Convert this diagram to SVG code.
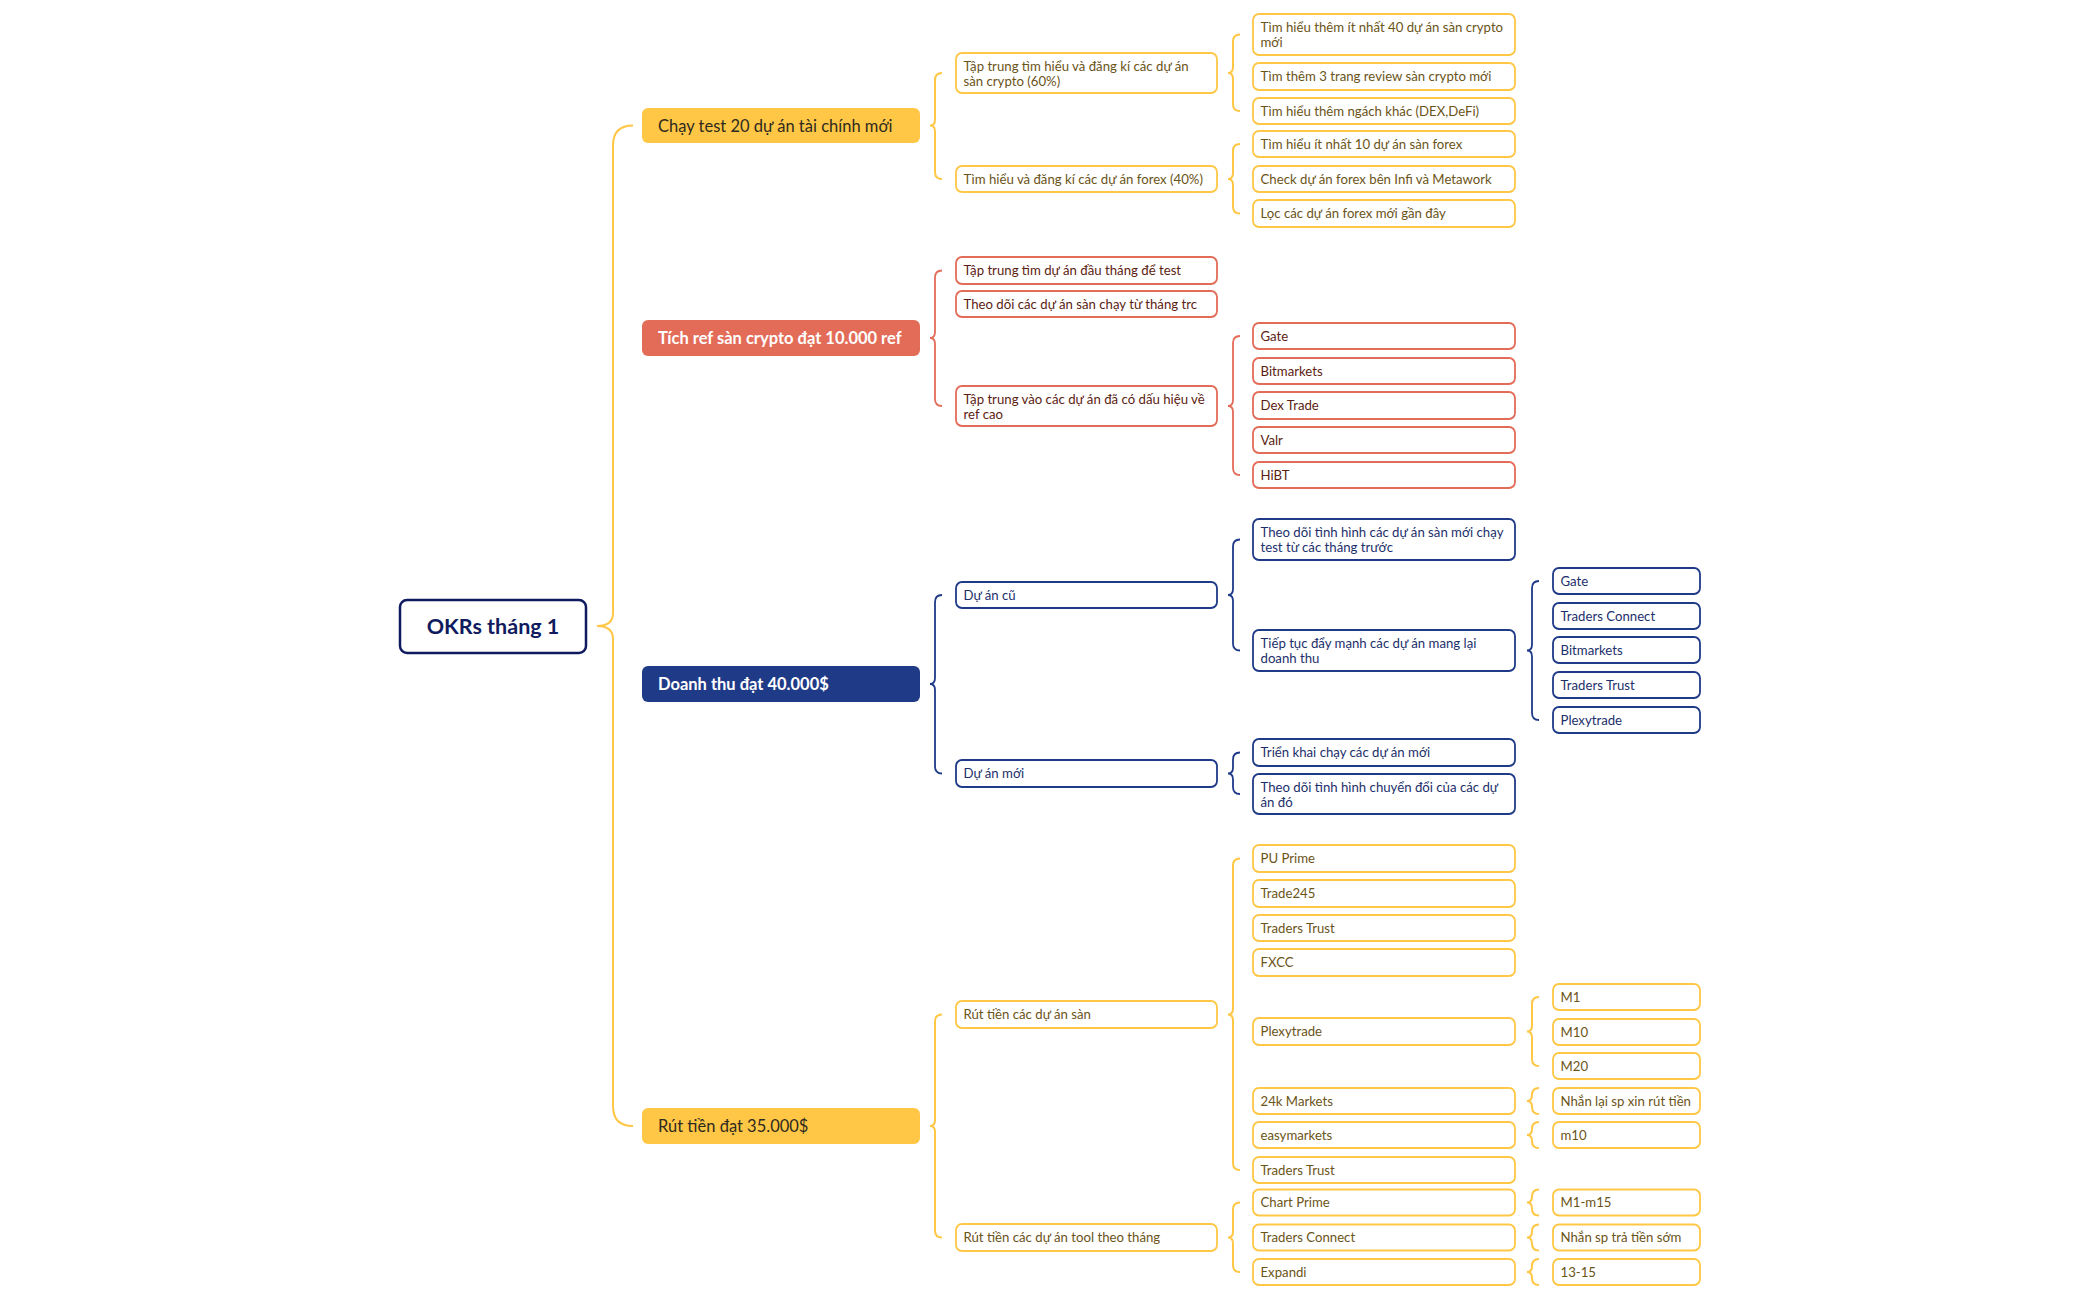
<svg xmlns="http://www.w3.org/2000/svg" width="2098" height="1300" viewBox="0 0 2098 1300">
<style>
text{font-family:"Lato","Open Sans",sans-serif}
.root{fill:#fff;stroke:#0f1b5e;stroke-width:2.5}
.roott{font-size:21.5px;font-weight:700;fill:#0f1b5e}
.l1y{fill:#FFC745}
.l1r{fill:#E36C59}
.l1n{fill:#1F3A87}
.t1d{font-size:16.5px;fill:#2e2a1e}
.t1w{font-size:16.5px;fill:#fff;font-weight:700}
.by{fill:#fff;stroke:#FFC745;stroke-width:1.8}
.br{fill:#fff;stroke:#E36C59;stroke-width:1.8}
.bn{fill:#fff;stroke:#1F3A87;stroke-width:1.8}
.ty{font-size:13.2px;fill:#6b5418}
.tr{font-size:13.2px;fill:#5c1d12}
.tn{font-size:13.2px;fill:#1c2f6b}
.cy{fill:none;stroke:#FFC745;stroke-width:2}
.cr{fill:none;stroke:#E36C59;stroke-width:1.8}
.cn{fill:none;stroke:#1F3A87;stroke-width:1.8}
</style>
<rect width="2098" height="1300" fill="#fff"/>
<g id="connectors">
<path class="cy" d="M633,125.5 Q613,125.5 613,145.5 L613,613 Q613,626 597,626 Q613,626 613,639 L613,1106 Q613,1126 633,1126"/>
<path class="cy" d="M942,73 Q935,73 935,80 L935,119.5 Q935,125.5 930,125.5 Q935,125.5 935,131.5 L935,172 Q935,179 942,179"/>
<path class="cy" d="M1240,34.5 Q1233,34.5 1233,41.5 L1233,67 Q1233,73 1228,73 Q1233,73 1233,79 L1233,104 Q1233,111 1240,111"/>
<path class="cy" d="M1240,144 Q1233,144 1233,151 L1233,173 Q1233,179 1228,179 Q1233,179 1233,185 L1233,206.5 Q1233,213.5 1240,213.5"/>
<path class="cr" d="M942,270.5 Q935,270.5 935,277.5 L935,332 Q935,338 930,338 Q935,338 935,344 L935,399 Q935,406 942,406"/>
<path class="cr" d="M1240,336 Q1233,336 1233,343 L1233,400 Q1233,406 1228,406 Q1233,406 1233,412 L1233,468 Q1233,475 1240,475"/>
<path class="cn" d="M942,595 Q935,595 935,602 L935,678 Q935,684 930,684 Q935,684 935,690 L935,766.5 Q935,773.5 942,773.5"/>
<path class="cn" d="M1240,539.5 Q1233,539.5 1233,546.5 L1233,589 Q1233,595 1228,595 Q1233,595 1233,601 L1233,643.5 Q1233,650.5 1240,650.5"/>
<path class="cn" d="M1539,581 Q1532,581 1532,588 L1532,644.5 Q1532,650.5 1527,650.5 Q1532,650.5 1532,656.5 L1532,713 Q1532,720 1539,720"/>
<path class="cn" d="M1240,752.5 Q1233,752.5 1233,759.5 L1233,767.5 Q1233,773.5 1228,773.5 Q1233,773.5 1233,779.5 L1233,787 Q1233,794 1240,794"/>
<path class="cy" d="M942,1014.5 Q935,1014.5 935,1021.5 L935,1120 Q935,1126 930,1126 Q935,1126 935,1132 L935,1230.5 Q935,1237.5 942,1237.5"/>
<path class="cy" d="M1240,858.5 Q1233,858.5 1233,865.5 L1233,1008.5 Q1233,1014.5 1228,1014.5 Q1233,1014.5 1233,1020.5 L1233,1163 Q1233,1170 1240,1170"/>
<path class="cy" d="M1240,1202.5 Q1233,1202.5 1233,1209.5 L1233,1231.5 Q1233,1237.5 1228,1237.5 Q1233,1237.5 1233,1243.5 L1233,1265 Q1233,1272 1240,1272"/>
<path class="cy" d="M1539,997 Q1532,997 1532,1004 L1532,1025.5 Q1532,1031.5 1527,1031.5 Q1532,1031.5 1532,1037.5 L1532,1059 Q1532,1066 1539,1066"/>
<path class="cy" d="M1539,1088 Q1532,1088 1532,1095 Q1532,1101 1527,1101 Q1532,1101 1532,1107 Q1532,1114 1539,1114"/>
<path class="cy" d="M1539,1122 Q1532,1122 1532,1129 Q1532,1135 1527,1135 Q1532,1135 1532,1141 Q1532,1148 1539,1148"/>
<path class="cy" d="M1539,1189.5 Q1532,1189.5 1532,1196.5 Q1532,1202.5 1527,1202.5 Q1532,1202.5 1532,1208.5 Q1532,1215.5 1539,1215.5"/>
<path class="cy" d="M1539,1224.5 Q1532,1224.5 1532,1231.5 Q1532,1237.5 1527,1237.5 Q1532,1237.5 1532,1243.5 Q1532,1250.5 1539,1250.5"/>
<path class="cy" d="M1539,1259 Q1532,1259 1532,1266 Q1532,1272 1527,1272 Q1532,1272 1532,1278 Q1532,1285 1539,1285"/>
</g>
<g id="root"><rect class="root" x="400" y="600" width="186" height="53" rx="7"/><text class="roott" x="493" y="634" text-anchor="middle">OKRs tháng 1</text></g>
<g id="n1"><rect class="l1y" x="642" y="108" width="278" height="35" rx="6"/><text class="t1d" x="658" y="131.5">Chạy test 20 dự án tài chính mới</text></g>
<g id="n2"><rect class="l1r" x="642" y="320" width="278" height="36" rx="6"/><text class="t1w" x="658" y="344">Tích ref sàn crypto đạt 10.000 ref</text></g>
<g id="n3"><rect class="l1n" x="642" y="666" width="278" height="36" rx="6"/><text class="t1w" x="658" y="690">Doanh thu đạt 40.000$</text></g>
<g id="n4"><rect class="l1y" x="642" y="1108" width="278" height="36" rx="6"/><text class="t1d" x="658" y="1132">Rút tiền đạt 35.000$</text></g>

<g id="n1a"><rect class="by" x="956" y="53" width="261" height="40" rx="6"/><text class="ty" x="963.5" y="71">Tập trung tìm hiểu và đăng kí các dự án</text><text class="ty" x="963.5" y="86">sàn crypto (60%)</text></g>
<g id="n1b"><rect class="by" x="956" y="166" width="261" height="26" rx="6"/><text class="ty" x="963.5" y="183.5">Tìm hiểu và đăng kí các dự án forex (40%)</text></g>
<g id="n1a1"><rect class="by" x="1253" y="14" width="262" height="41" rx="6"/><text class="ty" x="1260.5" y="32">Tìm hiểu thêm ít nhất 40 dự án sàn crypto</text><text class="ty" x="1260.5" y="47">mới</text></g>
<g id="n1a2"><rect class="by" x="1253" y="63" width="262" height="27" rx="6"/><text class="ty" x="1260.5" y="81">Tìm thêm 3 trang review sàn crypto mới</text></g>
<g id="n1a3"><rect class="by" x="1253" y="98" width="262" height="26" rx="6"/><text class="ty" x="1260.5" y="115.5">Tìm hiểu thêm ngách khác (DEX,DeFi)</text></g>
<g id="n1b1"><rect class="by" x="1253" y="131" width="262" height="26" rx="6"/><text class="ty" x="1260.5" y="148.5">Tìm hiểu ít nhất 10 dự án sàn forex</text></g>
<g id="n1b2"><rect class="by" x="1253" y="166" width="262" height="26" rx="6"/><text class="ty" x="1260.5" y="183.5">Check dự án forex bên Infi và Metawork</text></g>
<g id="n1b3"><rect class="by" x="1253" y="200" width="262" height="27" rx="6"/><text class="ty" x="1260.5" y="218">Lọc các dự án forex mới gần đây</text></g>

<g id="n2a"><rect class="br" x="956" y="257" width="261" height="27" rx="6"/><text class="tr" x="963.5" y="275">Tập trung tìm dự án đầu tháng để test</text></g>
<g id="n2b"><rect class="br" x="956" y="291" width="261" height="26" rx="6"/><text class="tr" x="963.5" y="308.5">Theo dõi các dự án sàn chạy từ tháng trc</text></g>
<g id="n2c"><rect class="br" x="956" y="386" width="261" height="40" rx="6"/><text class="tr" x="963.5" y="404">Tập trung vào các dự án đã có dấu hiệu về</text><text class="tr" x="963.5" y="419">ref cao</text></g>
<g id="n2c1"><rect class="br" x="1253" y="323" width="262" height="26" rx="6"/><text class="tr" x="1260.5" y="340.5">Gate</text></g>
<g id="n2c2"><rect class="br" x="1253" y="358" width="262" height="26" rx="6"/><text class="tr" x="1260.5" y="375.5">Bitmarkets</text></g>
<g id="n2c3"><rect class="br" x="1253" y="392" width="262" height="27" rx="6"/><text class="tr" x="1260.5" y="410">Dex Trade</text></g>
<g id="n2c4"><rect class="br" x="1253" y="427" width="262" height="26" rx="6"/><text class="tr" x="1260.5" y="444.5">Valr</text></g>
<g id="n2c5"><rect class="br" x="1253" y="462" width="262" height="26" rx="6"/><text class="tr" x="1260.5" y="479.5">HiBT</text></g>

<g id="n3a"><rect class="bn" x="956" y="582" width="261" height="26" rx="6"/><text class="tn" x="963.5" y="599.5">Dự án cũ</text></g>
<g id="n3b"><rect class="bn" x="956" y="760" width="261" height="27" rx="6"/><text class="tn" x="963.5" y="778">Dự án mới</text></g>
<g id="n3a1"><rect class="bn" x="1253" y="519" width="262" height="41" rx="6"/><text class="tn" x="1260.5" y="537">Theo dõi tình hình các dự án sàn mới chạy</text><text class="tn" x="1260.5" y="552">test từ các tháng trước</text></g>
<g id="n3a2"><rect class="bn" x="1253" y="630" width="262" height="41" rx="6"/><text class="tn" x="1260.5" y="648">Tiếp tục đẩy mạnh các dự án mang lại</text><text class="tn" x="1260.5" y="663">doanh thu</text></g>
<g id="n3b1"><rect class="bn" x="1253" y="739" width="262" height="27" rx="6"/><text class="tn" x="1260.5" y="757">Triển khai chạy các dự án mới</text></g>
<g id="n3b2"><rect class="bn" x="1253" y="774" width="262" height="40" rx="6"/><text class="tn" x="1260.5" y="792">Theo dõi tình hình chuyển đổi của các dự</text><text class="tn" x="1260.5" y="807">án đó</text></g>
<g id="n3a2a"><rect class="bn" x="1553" y="568" width="147" height="26" rx="6"/><text class="tn" x="1560.5" y="585.5">Gate</text></g>
<g id="n3a2b"><rect class="bn" x="1553" y="603" width="147" height="26" rx="6"/><text class="tn" x="1560.5" y="620.5">Traders Connect</text></g>
<g id="n3a2c"><rect class="bn" x="1553" y="637" width="147" height="26" rx="6"/><text class="tn" x="1560.5" y="654.5">Bitmarkets</text></g>
<g id="n3a2d"><rect class="bn" x="1553" y="672" width="147" height="26" rx="6"/><text class="tn" x="1560.5" y="689.5">Traders Trust</text></g>
<g id="n3a2e"><rect class="bn" x="1553" y="707" width="147" height="26" rx="6"/><text class="tn" x="1560.5" y="724.5">Plexytrade</text></g>

<g id="n4a"><rect class="by" x="956" y="1001" width="261" height="27" rx="6"/><text class="ty" x="963.5" y="1019">Rút tiền các dự án sàn</text></g>
<g id="n4b"><rect class="by" x="956" y="1224" width="261" height="27" rx="6"/><text class="ty" x="963.5" y="1242">Rút tiền các dự án tool theo tháng</text></g>
<g id="n4a1"><rect class="by" x="1253" y="845" width="262" height="27" rx="6"/><text class="ty" x="1260.5" y="863">PU Prime</text></g>
<g id="n4a2"><rect class="by" x="1253" y="880" width="262" height="27" rx="6"/><text class="ty" x="1260.5" y="898">Trade245</text></g>
<g id="n4a3"><rect class="by" x="1253" y="915" width="262" height="26" rx="6"/><text class="ty" x="1260.5" y="932.5">Traders Trust</text></g>
<g id="n4a4"><rect class="by" x="1253" y="949" width="262" height="27" rx="6"/><text class="ty" x="1260.5" y="967">FXCC</text></g>
<g id="n4a5"><rect class="by" x="1253" y="1018" width="262" height="27" rx="6"/><text class="ty" x="1260.5" y="1036">Plexytrade</text></g>
<g id="n4a6"><rect class="by" x="1253" y="1088" width="262" height="26" rx="6"/><text class="ty" x="1260.5" y="1105.5">24k Markets</text></g>
<g id="n4a7"><rect class="by" x="1253" y="1122" width="262" height="26" rx="6"/><text class="ty" x="1260.5" y="1139.5">easymarkets</text></g>
<g id="n4a8"><rect class="by" x="1253" y="1157" width="262" height="26" rx="6"/><text class="ty" x="1260.5" y="1174.5">Traders Trust</text></g>
<g id="n4b1"><rect class="by" x="1253" y="1189.5" width="262" height="26" rx="6"/><text class="ty" x="1260.5" y="1207">Chart Prime</text></g>
<g id="n4b2"><rect class="by" x="1253" y="1224.5" width="262" height="26" rx="6"/><text class="ty" x="1260.5" y="1242">Traders Connect</text></g>
<g id="n4b3"><rect class="by" x="1253" y="1259" width="262" height="26" rx="6"/><text class="ty" x="1260.5" y="1276.5">Expandi</text></g>
<g id="n4a5a"><rect class="by" x="1553" y="984" width="147" height="26" rx="6"/><text class="ty" x="1560.5" y="1001.5">M1</text></g>
<g id="n4a5b"><rect class="by" x="1553" y="1019" width="147" height="26" rx="6"/><text class="ty" x="1560.5" y="1036.5">M10</text></g>
<g id="n4a5c"><rect class="by" x="1553" y="1053" width="147" height="26" rx="6"/><text class="ty" x="1560.5" y="1070.5">M20</text></g>
<g id="n4a6a"><rect class="by" x="1553" y="1088" width="147" height="26" rx="6"/><text class="ty" x="1560.5" y="1105.5">Nhắn lại sp xin rút tiền</text></g>
<g id="n4a7a"><rect class="by" x="1553" y="1122" width="147" height="26" rx="6"/><text class="ty" x="1560.5" y="1139.5">m10</text></g>
<g id="n4b1a"><rect class="by" x="1553" y="1189.5" width="147" height="26" rx="6"/><text class="ty" x="1560.5" y="1207">M1-m15</text></g>
<g id="n4b2a"><rect class="by" x="1553" y="1224.5" width="147" height="26" rx="6"/><text class="ty" x="1560.5" y="1242">Nhắn sp trả tiền sớm</text></g>
<g id="n4b3a"><rect class="by" x="1553" y="1259" width="147" height="26" rx="6"/><text class="ty" x="1560.5" y="1276.5">13-15</text></g>
</svg>
